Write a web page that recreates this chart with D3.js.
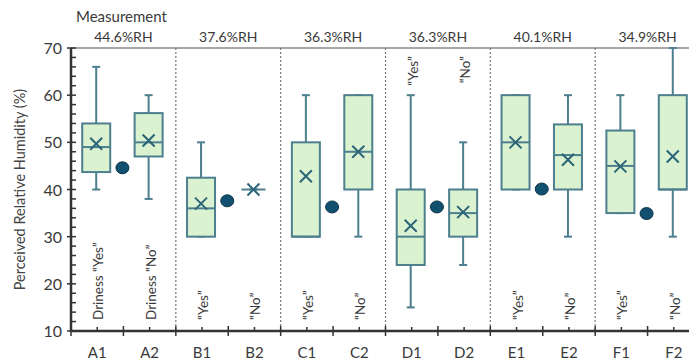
<!DOCTYPE html>
<html>
<head>
<meta charset="utf-8">
<script src="https://cdn.jsdelivr.net/npm/d3@7"></script>
<style>
body{margin:0;background:#fff;}
svg text{font-family:Lato,"Open Sans",sans-serif;}
</style>
</head>
<body>
<div id="chart"></div>
<script>
// categories and groups
var cats = ["A1","A2","B1","B2","C1","C2","D1","D2","E1","E2","F1","F2"];
var groups = ["A","B","C","D","E","F"];
var measured = [44.6, 37.6, 36.3, 36.3, 40.1, 34.9];
var rhLabels = ["44.6%RH","37.6%RH","36.3%RH","36.3%RH","40.1%RH","34.9%RH"];

// box stats, one entry per category
var wLow  = [40, 38, 30, 40, 30, 30, 15, 24, 40, 30, 35, 30];
var q1    = [43.7, 47, 30, 40, 30, 40, 24, 30, 40, 40, 35, 40];
var med   = [49, 50, 36, 40, 30, 48, 30, 35, 50, 47.3, 45, 40];
var q3    = [54, 56.2, 42.5, 40, 50, 60, 40, 40, 60, 53.8, 52.5, 60];
var wHigh = [66, 60, 50, 40, 60, 60, 60, 50, 60, 60, 60, 70];
var mean  = [49.7, 50.4, 37, 40, 42.8, 48, 32.3, 35.2, 50, 46.3, 44.9, 47];

var catText = ["Driness \u201cYes\u201d","Driness \u201cNo\u201d","\u201cYes\u201d","\u201cNo\u201d","\u201cYes\u201d","\u201cNo\u201d",
               "\u201cYes\u201d","\u201cNo\u201d","\u201cYes\u201d","\u201cNo\u201d","\u201cYes\u201d","\u201cNo\u201d"];
var textTop = [false,false,false,false,false,false,true,true,false,false,false,false];

var yTicks = [10,20,30,40,50,60,70];

var W = 689, H = 360;
var mLeft = 71, mTop = 48, mBottom = 331;

var svg = d3.select("#chart").append("svg")
  .attr("width", W).attr("height", H);

var y = d3.scaleLinear().domain([10,70]).range([mBottom, mTop]);
var x = d3.scaleBand().domain(cats).range([mLeft, 700]).padding(0);
var bw = x.bandwidth();
var gx = d3.scaleBand().domain(groups).range([mLeft, 700]);

var boxStroke = "#4d7f8e", boxFill = "#daf2d0", txtCol = "#3a3a3a";

// top line
svg.append("line")
  .attr("x1", mLeft).attr("x2", W).attr("y1", y(70)).attr("y2", y(70))
  .attr("stroke", "#8a8a8a").attr("stroke-width", 1.5);

// dividers
groups.slice(1).forEach(function(g){
  svg.append("line")
    .attr("x1", gx(g)).attr("x2", gx(g))
    .attr("y1", y(70)).attr("y2", y(10))
    .attr("stroke", "#777").attr("stroke-width", 1.2)
    .attr("stroke-dasharray", "2,2");
});

// y axis
var yMinor = d3.range(10, 71, 2);
svg.selectAll(".ymin").data(yMinor).enter().append("line")
  .attr("x1", function(d){ return d % 10 == 0 ? mLeft - 4 : mLeft; })
  .attr("x2", mLeft + 5)
  .attr("y1", function(d){ return y(d); }).attr("y2", function(d){ return y(d); })
  .attr("stroke", "#333").attr("stroke-width", 1.5);
svg.append("line")
  .attr("x1", mLeft).attr("x2", mLeft).attr("y1", y(70)).attr("y2", y(10))
  .attr("stroke", "#333").attr("stroke-width", 2.5);
svg.selectAll(".ylab").data(yTicks).enter().append("text")
  .attr("x", mLeft - 9).attr("y", function(d){ return y(d) + 6; })
  .attr("text-anchor", "end").attr("font-size", 16).attr("fill", txtCol)
  .text(function(d){ return d; });

svg.append("text")
  .attr("transform", "translate(25," + ((mTop + mBottom)/2) + ") rotate(-90)")
  .attr("text-anchor", "middle").attr("font-size", 14.5).attr("fill", "#444")
  .text("Perceived Relative Humidity (%)");

// x axis
svg.append("line")
  .attr("x1", mLeft).attr("x2", W).attr("y1", y(10)).attr("y2", y(10))
  .attr("stroke", "#333").attr("stroke-width", 2.5);
var xt = [];
cats.forEach(function(c){ xt.push(x(c)); xt.push(x(c) + bw/2); });
svg.selectAll(".xt").data(xt).enter().append("line")
  .attr("x1", function(d){ return d; }).attr("x2", function(d){ return d; })
  .attr("y1", function(d, i){ return i % 2 ? y(10) - 4 : y(10) - 5; })
  .attr("y2", function(d, i){ return i % 2 ? y(10) : y(10) + 5; })
  .attr("stroke", "#333").attr("stroke-width", 1.5);
svg.selectAll(".xlab").data(cats).enter().append("text")
  .attr("x", function(d){ return x(d) + bw/2; }).attr("y", 358)
  .attr("text-anchor", "middle").attr("font-size", 15).attr("fill", txtCol)
  .text(function(d){ return d; });

// group labels
svg.append("text").attr("x", 76).attr("y", 22)
  .attr("font-size", 15).attr("fill", txtCol).text("Measurement");
svg.selectAll(".rh").data(groups).enter().append("text")
  .attr("x", function(d){ return gx(d) + gx.bandwidth()/2; }).attr("y", 42)
  .attr("text-anchor", "middle").attr("font-size", 14).attr("fill", txtCol)
  .text(function(d, i){ return rhLabels[i]; });

// boxes
var boxW = 28, capW = 8, xs = 6;
cats.forEach(function(c, i){
  var cx = x(c) + bw/2 - 1;
  var g = svg.append("g");
  g.append("line").attr("x1", cx).attr("x2", cx)
    .attr("y1", y(wHigh[i])).attr("y2", y(wLow[i]))
    .attr("stroke", boxStroke).attr("stroke-width", 2);
  [wHigh[i], wLow[i]].forEach(function(v){
    g.append("line").attr("x1", cx - capW/2).attr("x2", cx + capW/2)
      .attr("y1", y(v)).attr("y2", y(v))
      .attr("stroke", boxStroke).attr("stroke-width", 2);
  });
  var bwi = q3[i] == q1[i] ? 24 : boxW;
  g.append("rect").attr("x", cx - bwi/2).attr("width", bwi)
    .attr("y", y(q3[i])).attr("height", y(q1[i]) - y(q3[i]))
    .attr("fill", boxFill).attr("stroke", boxStroke).attr("stroke-width", 2);
  g.append("line").attr("x1", cx - bwi/2).attr("x2", cx + bwi/2)
    .attr("y1", y(med[i])).attr("y2", y(med[i]))
    .attr("stroke", boxStroke).attr("stroke-width", 2);
  var my = y(mean[i]);
  g.append("path")
    .attr("d", "M" + (cx - xs) + "," + (my - xs) + "L" + (cx + xs) + "," + (my + xs) +
               "M" + (cx - xs) + "," + (my + xs) + "L" + (cx + xs) + "," + (my - xs))
    .attr("stroke", "#2b6478").attr("stroke-width", 2).attr("fill", "none");
});

// measured dots
svg.selectAll(".dot").data(groups).enter().append("ellipse")
  .attr("cx", function(d){ return gx(d) + gx.bandwidth()/2 - 1; })
  .attr("cy", function(d, i){ return y(measured[i]); })
  .attr("rx", 6.5).attr("ry", 6)
  .attr("fill", "#11506f").attr("stroke", "#0b3247").attr("stroke-width", 1);

// category texts
cats.forEach(function(c, i){
  var tx = x(c) + bw/2 + 6;
  var ty = textTop[i] ? 56 : 320;
  svg.append("text")
    .attr("transform", "translate(" + tx + "," + ty + ") rotate(-90)")
    .attr("text-anchor", textTop[i] ? "end" : "start")
    .attr("font-size", 13.5).attr("fill", txtCol)
    .text(catText[i]);
});
</script>
</body>
</html>
